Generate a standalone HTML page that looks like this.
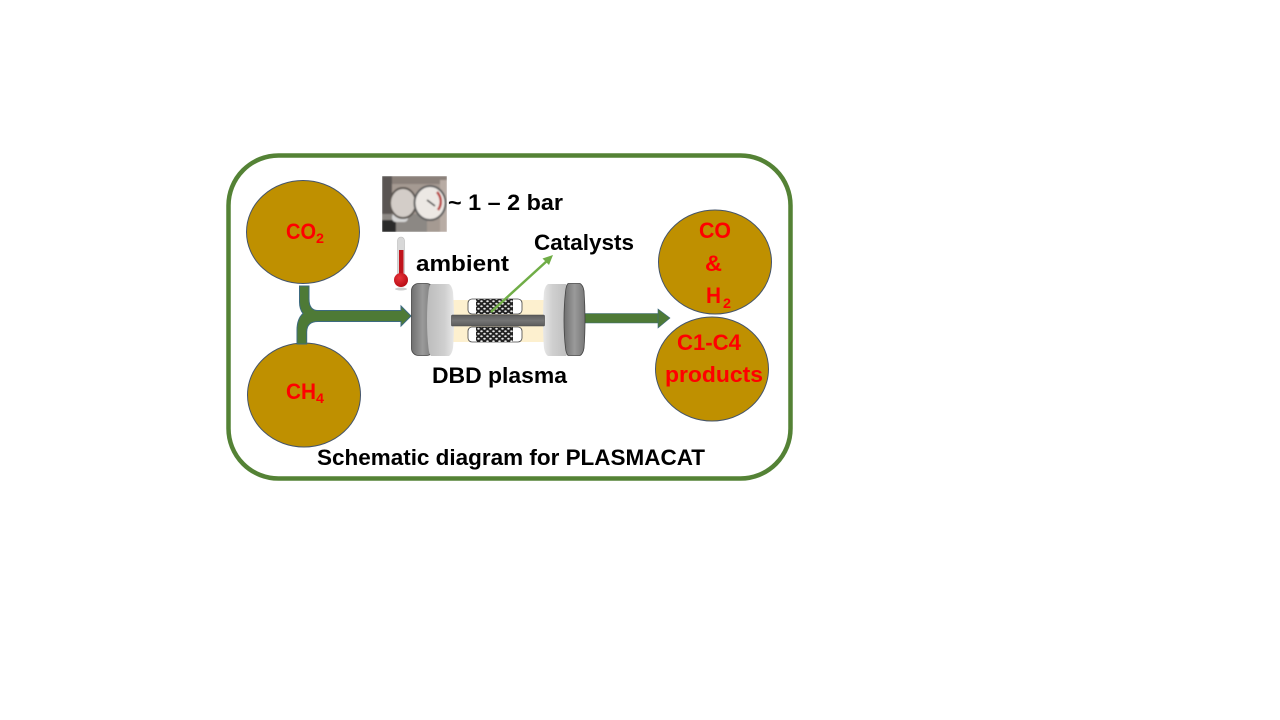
<!DOCTYPE html>
<html><head><meta charset="utf-8"><style>html,body{margin:0;padding:0;background:#fff;width:1280px;height:720px;overflow:hidden}svg{display:block}text{font-family:"Liberation Sans",sans-serif;font-weight:bold}</style></head><body>
<svg width="1280" height="720" viewBox="0 0 1280 720" xmlns="http://www.w3.org/2000/svg">
<defs>
<linearGradient id="dk" x1="0" x2="1" y1="0" y2="0"><stop offset="0" stop-color="#6f6f6f"/><stop offset=".5" stop-color="#9a9a9a"/><stop offset="1" stop-color="#777"/></linearGradient>
<linearGradient id="lt" x1="0" x2="1" y1="0" y2="0"><stop offset="0" stop-color="#bcbcbc"/><stop offset=".65" stop-color="#cfcfcf"/><stop offset="1" stop-color="#e8e8e8"/></linearGradient>
<linearGradient id="lt2" x1="0" x2="1" y1="0" y2="0"><stop offset="0" stop-color="#e8e8e8"/><stop offset=".35" stop-color="#cfcfcf"/><stop offset="1" stop-color="#bcbcbc"/></linearGradient>
<linearGradient id="rod" x1="0" x2="0" y1="0" y2="1"><stop offset="0" stop-color="#5c5c5c"/><stop offset=".5" stop-color="#757575"/><stop offset="1" stop-color="#5c5c5c"/></linearGradient>
<radialGradient id="bulb" cx=".4" cy=".35" r=".7"><stop offset="0" stop-color="#e8333a"/><stop offset="1" stop-color="#b50a12"/></radialGradient>
<pattern id="mesh" width="6" height="5" patternUnits="userSpaceOnUse"><rect width="6" height="5" fill="#222"/><ellipse cx="1.500" cy="1.250" rx="1.300" ry="1" fill="#e6e6e6"/><ellipse cx="4.500" cy="3.750" rx="1.300" ry="1" fill="#e6e6e6"/></pattern>
<filter id="bl" x="0" y="0" width="1" height="1"><feGaussianBlur stdDeviation=".9"/></filter>
<clipPath id="ph"><rect x="382" y="176" width="65" height="56"/></clipPath>
</defs>
<rect x="228.500" y="155.500" width="562" height="323" rx="50" ry="50" fill="#fff" stroke="#548235" stroke-width="4.500"/>
<ellipse cx="303" cy="232" rx="56.500" ry="51.500" fill="#bf9000" stroke="#44546a" stroke-width="1"/>
<ellipse cx="304" cy="395" rx="56.500" ry="52" fill="#bf9000" stroke="#44546a" stroke-width="1"/>
<ellipse cx="715" cy="262" rx="56.500" ry="52" fill="#bf9000" stroke="#44546a" stroke-width="1"/>
<ellipse cx="712" cy="369" rx="56.500" ry="52" fill="#bf9000" stroke="#44546a" stroke-width="1"/>
<path d="M299.500 286 H309 V299 Q309 310.500 318 310.500 H401 V306 L411 316 L401 326 V321.500 H318 Q306.700 321.500 306.700 332 V344 H297 V330 Q297 319 303 313.500 Q299.500 309 299.500 302 Z" fill="#4e7a36" stroke="#3c6a80" stroke-width="1"/>
<rect x="585" y="313.500" width="73" height="9.500" fill="#4e7a36"/>
<path d="M658 309 L670 318 L658 328 Z" fill="#4e7a36" stroke="#3c6a80" stroke-width=".6"/>
<path d="M585 313.500 H658 M585 323 H658" stroke="#3c6a80" stroke-width=".6"/>
<rect x="450" y="300" width="96" height="42" fill="#fdf0cf"/>
<rect x="468" y="299" width="54" height="15" rx="4" fill="#fff" stroke="#444" stroke-width=".8"/>
<rect x="468" y="327" width="54" height="15" rx="4" fill="#fff" stroke="#444" stroke-width=".8"/>
<rect x="476" y="299" width="37" height="15" fill="url(#mesh)"/>
<rect x="476" y="327" width="37" height="15" fill="url(#mesh)"/>
<rect x="411.500" y="283.500" width="22" height="72" rx="7" fill="url(#dk)" stroke="#444" stroke-width=".8"/>
<path d="M431 284 H449 Q452 286 453 292 Q454 305 454 320 Q454 336 453 348 Q452 354 449 356 H431 Q429 354 428.500 348 Q427 335 427 320 Q427 305 428.500 292 Q429 286 431 284 Z" fill="url(#lt)"/>
<path d="M548 284 H566 Q568 286 568.500 292 Q570 305 570 320 Q570 335 568.500 348 Q568 354 566 356 H548 Q545 354 544 348 Q543 336 543 320 Q543 305 544 292 Q545 286 548 284 Z" fill="url(#lt2)"/>
<path d="M568 283.500 H580 Q583 285 584 291 Q585 305 585 320 Q585 335 584 348 Q583 354 580 355.500 H568 Q566 353 565.500 348 Q564 335 564 320 Q564 305 565.500 292 Q566 286 568 283.500 Z" fill="url(#dk)" stroke="#444" stroke-width=".8"/>
<rect x="451.500" y="315" width="93" height="11" rx="1" fill="url(#rod)" stroke="#444" stroke-width=".6"/>
<line x1="491" y1="312" x2="548" y2="260" stroke="#70ad47" stroke-width="2.500"/>
<path d="M553 255 L542.500 258.500 L549 265 Z" fill="#70ad47"/>
<g clip-path="url(#ph)"><g filter="url(#bl)">
<rect x="382" y="176" width="65" height="56" fill="#a59a92"/>
<rect x="382" y="176" width="65" height="8" fill="#8a8079"/>
<rect x="382" y="176" width="10" height="40" fill="#5a5552"/>
<rect x="440" y="180" width="7" height="52" fill="#b8aca4"/>
<rect x="382" y="214" width="45" height="18" fill="#8c8884"/>
<rect x="382" y="220" width="14" height="12" fill="#2a2a2a"/>
<rect x="392" y="213" width="16" height="9" rx="4" fill="#d6d6d6"/>
<ellipse cx="403" cy="203" rx="13" ry="15" fill="#d3cdc8" stroke="#5a5450" stroke-width="2"/>
<ellipse cx="430" cy="203" rx="15.500" ry="17" fill="#ece8e4" stroke="#5c5c5c" stroke-width="2"/>
<path d="M437 192 A14 14 0 0 1 438 210" fill="none" stroke="#b8403c" stroke-width="2.500"/>
<line x1="427" y1="200" x2="435" y2="206" stroke="#333" stroke-width="1.500"/>
</g></g>
<rect x="397.500" y="237" width="7" height="40" rx="3.500" fill="#d8d8d8" stroke="#bbb" stroke-width=".6"/>
<rect x="399" y="250" width="4.500" height="26" fill="#c0141c"/>
<circle cx="401" cy="280" r="7" fill="url(#bulb)"/>
<ellipse cx="401" cy="289" rx="6" ry="1.500" fill="#ccc"/>
<g fill="#f00" font-size="22.500">
<text x="286" y="239" textLength="30" lengthAdjust="spacingAndGlyphs">CO</text>
<text x="316" y="243" font-size="14" textLength="8" lengthAdjust="spacingAndGlyphs">2</text>
<text x="286" y="399" textLength="30" lengthAdjust="spacingAndGlyphs">CH</text>
<text x="316" y="403" font-size="14" textLength="8" lengthAdjust="spacingAndGlyphs">4</text>
<text x="699" y="238" textLength="32" lengthAdjust="spacingAndGlyphs">CO</text>
<text x="705" y="271" textLength="17" lengthAdjust="spacingAndGlyphs">&amp;</text>
<text x="706" y="303" textLength="15" lengthAdjust="spacingAndGlyphs">H</text>
<text x="723" y="308" font-size="14" textLength="8" lengthAdjust="spacingAndGlyphs">2</text>
<text x="677" y="350" textLength="64" lengthAdjust="spacingAndGlyphs">C1-C4</text>
<text x="665" y="382" textLength="98" lengthAdjust="spacingAndGlyphs">products</text>
</g>
<g fill="#000" font-size="22.500">
<text x="448" y="210" textLength="115" lengthAdjust="spacingAndGlyphs">~ 1 – 2 bar</text>
<text x="416" y="271" textLength="93" lengthAdjust="spacingAndGlyphs">ambient</text>
<text x="534" y="250" textLength="100" lengthAdjust="spacingAndGlyphs">Catalysts</text>
<text x="432" y="383" textLength="135" lengthAdjust="spacingAndGlyphs">DBD plasma</text>
<text x="317" y="465" textLength="388" lengthAdjust="spacingAndGlyphs">Schematic diagram for PLASMACAT</text>
</g>
</svg>
</body></html>
